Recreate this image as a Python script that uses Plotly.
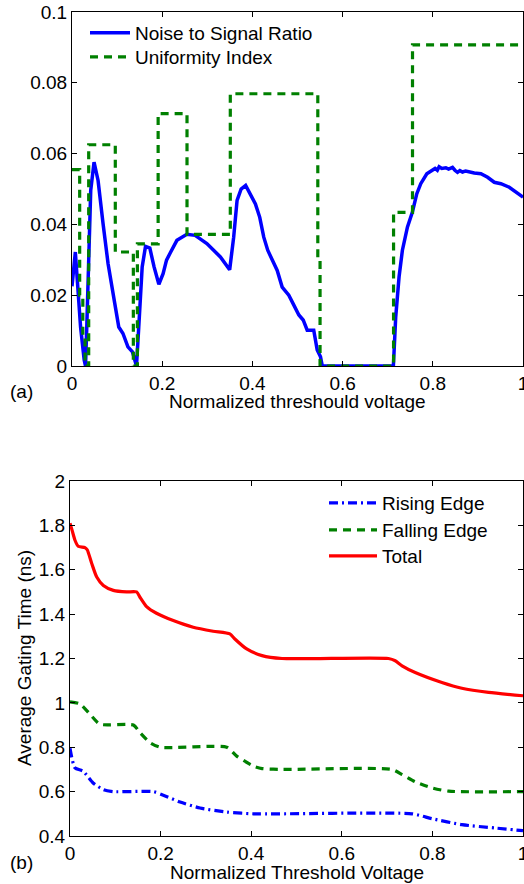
import plotly.graph_objects as go

# ---------------- (a) data ----------------
nsr_x = [0.000, 0.004, 0.0074, 0.0118, 0.015, 0.019, 0.027, 0.030, 0.033, 0.0356, 0.0415, 0.0489,
         0.0578, 0.0689, 0.080, 0.0948, 0.1037, 0.113, 0.124, 0.134, 0.139, 0.143, 0.148, 0.1556,
         0.163, 0.1726, 0.182, 0.1926, 0.202, 0.2096, 0.218, 0.2326, 0.2548, 0.273, 0.299, 0.329,
         0.3496, 0.3585, 0.366, 0.375, 0.385, 0.3956, 0.4067, 0.4163, 0.4252, 0.434, 0.4437, 0.455,
         0.466, 0.4807, 0.4919, 0.503, 0.5126, 0.5215, 0.536, 0.5437, 0.551, 0.555, 0.7126, 0.7178,
         0.7252, 0.7326, 0.7437, 0.7548, 0.7644, 0.7733, 0.7867, 0.7993, 0.805, 0.810, 0.814, 0.820,
         0.8289, 0.835, 0.8437, 0.849, 0.8548, 0.860, 0.866, 0.873, 0.8807, 0.8919, 0.9067, 0.9215,
         0.9363, 0.951, 0.9696, 0.9844, 1.0]
nsr_y = [0.0225, 0.027, 0.0322, 0.0242, 0.017, 0.011, 0.0017, 0.0, 0.012, 0.026, 0.0496, 0.0576,
         0.0524, 0.0402, 0.0289, 0.0177, 0.011, 0.0092, 0.0054, 0.004, 0.0012, 0.0, 0.011, 0.028,
         0.0338, 0.0333, 0.028, 0.0231, 0.0261, 0.0299, 0.0320, 0.0355, 0.0372, 0.0369, 0.0346, 0.0308,
         0.0272, 0.0364, 0.0468, 0.0500, 0.0510, 0.0486, 0.0458, 0.0420, 0.0364, 0.0327, 0.0303, 0.0270,
         0.0223, 0.0200, 0.0172, 0.0144, 0.0130, 0.0101, 0.0101, 0.0045, 0.0026, 0.0, 0.0, 0.0139,
         0.0252, 0.0327, 0.0392, 0.0435, 0.0486, 0.0515, 0.0543, 0.0552, 0.0558, 0.0553, 0.0563, 0.0558,
         0.0560, 0.0556, 0.0561, 0.0553, 0.0547, 0.0552, 0.0548, 0.0551, 0.0548, 0.0545, 0.0543, 0.0533,
         0.0519, 0.0515, 0.0505, 0.0491, 0.0477]

ui_x = [0, 0.017, 0.024, 0.029, 0.037, 0.096, 0.136, 0.145, 0.191, 0.255, 0.351, 0.545, 0.550, 0.713, 0.755, 1.0]
ui_y = [0.0555, 0.020, 0.008, 0.0, 0.0625, 0.0322, 0.0, 0.0345, 0.0713, 0.0372, 0.0769, 0.030, 0.0, 0.0434, 0.0907, 0.0907]

xticks_a = [0, 0.2, 0.4, 0.6, 0.8, 1.0]
xticklabels_a = ["0", "0.2", "0.4", "0.6", "0.8", "1"]
yticks_a = [0, 0.02, 0.04, 0.06, 0.08, 0.1]
yticklabels_a = ["0", "0.02", "0.04", "0.06", "0.08", "0.1"]

# ---------------- (b) data ----------------
rise_x = [0, 0.011, 0.029, 0.051, 0.074, 0.0956, 0.184, 0.206, 0.243, 0.287, 0.346, 0.405, 0.755, 0.799, 0.865, 0.939, 1.0]
rise_y = [0.795, 0.707, 0.692, 0.639, 0.609, 0.600, 0.600, 0.584, 0.553, 0.526, 0.508, 0.500, 0.500, 0.478, 0.451, 0.436, 0.424]

fall_x = [0, 0.022, 0.044, 0.066, 0.14, 0.1545, 0.177, 0.199, 0.346, 0.368, 0.405, 0.424, 0.468, 0.711, 0.733, 0.762, 0.799, 0.836, 1.0]
fall_y = [1.005, 0.995, 0.949, 0.904, 0.900, 0.866, 0.820, 0.800, 0.800, 0.760, 0.715, 0.704, 0.700, 0.700, 0.677, 0.644, 0.617, 0.602, 0.600]

total_x = [0, 0.005, 0.011, 0.018, 0.033, 0.038, 0.048, 0.059, 0.0736, 0.0956, 0.125, 0.147, 0.1545, 0.169,
           0.191, 0.228, 0.272, 0.316, 0.353, 0.364, 0.39, 0.424, 0.468, 0.703, 0.718, 0.733, 0.762, 0.821,
           0.865, 0.924, 1.0]
total_y = [1.81, 1.775, 1.733, 1.706, 1.700, 1.690, 1.628, 1.567, 1.529, 1.507, 1.500, 1.500, 1.476, 1.434,
           1.404, 1.371, 1.341, 1.323, 1.311, 1.288, 1.243, 1.213, 1.200, 1.200, 1.190, 1.167, 1.137, 1.092,
           1.066, 1.047, 1.032]

xticks_b = [0, 0.2, 0.4, 0.6, 0.8, 1.0]
xticklabels_b = ["0", "0.2", "0.4", "0.6", "0.8", "1"]
yticks_b = [0.4, 0.6, 0.8, 1.0, 1.2, 1.4, 1.6, 1.8, 2.0]
yticklabels_b = ["0.4", "0.6", "0.8", "1", "1.2", "1.4", "1.6", "1.8", "2"]

BLUE = "rgb(0,0,255)"
GREEN = "rgb(0,128,0)"
RED = "rgb(255,0,0)"
FONT = "Liberation Sans, Arial, sans-serif"
FS = 19

W, H = 524, 884

def px_x(p):
    return p / W

def px_y(p):
    return (H - p) / H

fig = go.Figure()
fig.add_trace(go.Scatter(x=nsr_x, y=nsr_y, mode="lines", name="Noise to Signal Ratio",
                         line=dict(color=BLUE, width=3.5), xaxis="x", yaxis="y", legend="legend"))
fig.add_trace(go.Scatter(x=ui_x, y=ui_y, mode="lines", name="Uniformity Index", line_shape="hv",
                         line=dict(color=GREEN, width=3.2, dash="8px,6px"), xaxis="x", yaxis="y", legend="legend3"))

fig.add_trace(go.Scatter(x=rise_x, y=rise_y, mode="lines", name="Rising Edge", line_shape="spline",
                         line=dict(color=BLUE, width=3.2, dash="9px,4px,2px,4px", smoothing=0.6),
                         xaxis="x2", yaxis="y2", legend="legend2"))
fig.add_trace(go.Scatter(x=fall_x, y=fall_y, mode="lines", name="Falling Edge", line_shape="spline",
                         line=dict(color=GREEN, width=3.2, dash="8px,6px", smoothing=0.6),
                         xaxis="x2", yaxis="y2", legend="legend4"))
fig.add_trace(go.Scatter(x=total_x, y=total_y, mode="lines", name="Total", line_shape="spline",
                         line=dict(color=RED, width=3.2, smoothing=0.6),
                         xaxis="x2", yaxis="y2", legend="legend5"))

axis_common = dict(showline=True, linecolor="black", linewidth=1, mirror="ticks", ticks="inside",
                   ticklen=5, tickcolor="black", showgrid=False, zeroline=False, automargin=False,
                   ticklabeloverflow="allow",
                   tickfont=dict(family=FONT, size=FS, color="black"))

def leg(xp, yp, iw):
    return dict(x=px_x(xp), y=px_y(yp), xanchor="left", yanchor="middle", bgcolor="rgba(0,0,0,0)",
                font=dict(family=FONT, size=FS, color="black"), itemwidth=iw, borderwidth=0)

fig.update_layout(
    template="none",
    width=W, height=H, margin=dict(l=0, r=0, t=0, b=0, pad=0, autoexpand=False),
    paper_bgcolor="white", plot_bgcolor="white",
    font=dict(family=FONT, size=FS, color="black"),
    xaxis=dict(domain=[px_x(72), px_x(523)], range=[0, 1], tickvals=xticks_a, ticktext=xticklabels_a,
               anchor="y", **axis_common),
    yaxis=dict(domain=[px_y(366), px_y(12)], range=[0, 0.1], tickvals=yticks_a, ticktext=yticklabels_a,
               anchor="x", **axis_common),
    xaxis2=dict(domain=[px_x(70), px_x(523)], range=[0, 1], tickvals=xticks_b, ticktext=xticklabels_b,
                anchor="y2", **axis_common),
    yaxis2=dict(domain=[px_y(836), px_y(481)], range=[0.4, 2], tickvals=yticks_b, ticktext=yticklabels_b,
                anchor="x2", **axis_common),
    legend=leg(85, 33, 40),
    legend3=leg(85, 57, 40),
    legend2=leg(324, 503, 48),
    legend4=leg(324, 530, 48),
    legend5=leg(324, 556, 48),
    showlegend=True,
    annotations=[
        dict(text="(a)", x=px_x(8), y=px_y(391), xref="paper", yref="paper", xanchor="left",
             yanchor="middle", showarrow=False, font=dict(family=FONT, size=FS)),
        dict(text="Normalized threshould voltage", x=px_x(297), y=px_y(401), xref="paper", yref="paper",
             xanchor="center", yanchor="middle", showarrow=False, font=dict(family=FONT, size=FS)),
        dict(text="(b)", x=px_x(8), y=px_y(862), xref="paper", yref="paper", xanchor="left",
             yanchor="middle", showarrow=False, font=dict(family=FONT, size=FS)),
        dict(text="Normalized Threshold Voltage", x=px_x(297), y=px_y(872), xref="paper", yref="paper",
             xanchor="center", yanchor="middle", showarrow=False, font=dict(family=FONT, size=FS)),
        dict(text="Average Gating Time (ns)", x=px_x(24), y=px_y(658), xref="paper", yref="paper",
             xanchor="center", yanchor="middle", textangle=-90, showarrow=False,
             font=dict(family=FONT, size=FS)),
    ],
)

# remove the default page margin so the figure sits exactly in the 524x884 window
fig.write_html("out.html", config={"displayModeBar": False},
               post_script="document.body.style.margin='0';document.body.style.overflow='hidden';")
